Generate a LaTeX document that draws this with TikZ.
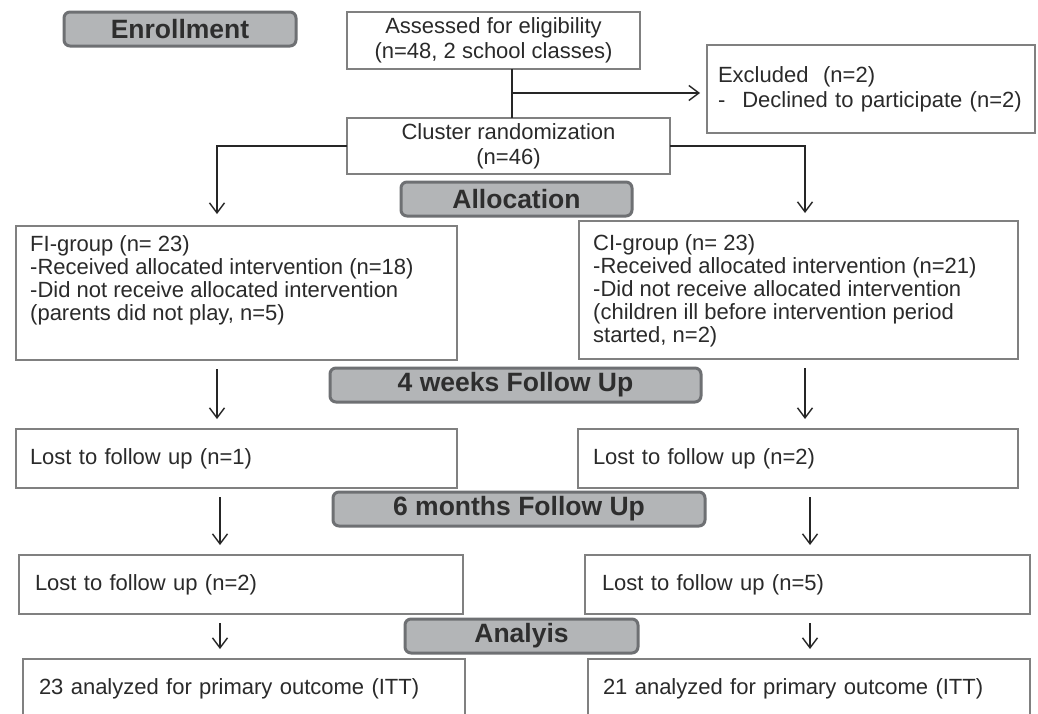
\documentclass[tikz,border=0pt]{standalone}
\usepackage{fontspec}
\setmainfont{Liberation Sans}
\usetikzlibrary{arrows.meta,positioning}

\definecolor{boxline}{HTML}{808080}
\definecolor{headfill}{HTML}{B3B5B7}
\definecolor{headline}{HTML}{6E7073}
\definecolor{headtext}{HTML}{2E2E2E}
\definecolor{arrline}{HTML}{262626}
\definecolor{bodytext}{HTML}{2A2A2A}

\begin{document}
\begin{tikzpicture}[x=1pt,y=-1pt,
	box/.style={draw=boxline, line width=2.6pt, outer sep=0pt, inner ysep=0pt,
		anchor=north west, minimum height=59pt, align=left, text=bodytext,
		font=\fontsize{22}{23}\selectfont},
	wide/.style={font=\fontsize{22}{25}\selectfont},
	boxtext/.style={anchor=north west, inner sep=0pt, align=left, text=bodytext,
		font=\fontsize{22}{23}\selectfont},
	head/.style={draw=headline, fill=headfill, line width=3pt, rounded corners=6pt,
		outer sep=0pt, inner sep=0pt, anchor=north west, minimum height=34pt,
		text=headtext, font=\fontsize{26.5}{28}\selectfont\bfseries},
	link/.style={draw=arrline, line width=1.4pt},
	arr/.style={link, -{Straight Barb[length=10pt,width=15pt]}}]
	\clip (0,0) rectangle (1038,713);
	\fill[white] (0,0) rectangle (1038,713);

	% stage headers
	\node[head, minimum width=232pt] (enroll) at (64,12) {Enrollment};
	\node[head, minimum width=231pt] (alloc) at (401,182) {Allocation};
	\node[head, minimum width=371pt] (fuweeks) at (330,368) {4 weeks Follow Up};
	\node[head, minimum width=372pt] (fumonths) at (333,492) {6 months Follow Up};
	\node[head, minimum width=233pt] (analy) at (405,619) {Analyis};

	% enrollment
	\node[box, wide, align=center, inner xsep=0pt, minimum width=293pt, minimum height=57pt] (assess) at (347,12)
		{Assessed for eligibility\\(n=48, 2 school classes)};
	\node[box, wide, inner xsep=11pt, text width=306pt, minimum height=88pt] (excl) at (707,45)
		{Excluded\ \ (n=2)\\-\hspace{17pt}Declined to participate (n=2)};
	\node[box, wide, align=center, inner xsep=0pt, minimum width=323pt, minimum height=56pt] (clust) at (347,118)
		{Cluster randomization\\(n=46)};

	% allocation
	\node[box, inner sep=0pt, minimum width=441pt, minimum height=134pt] (fi) at (16,226) {};
	\node[boxtext] (fitext) at (30,235)
		{FI-group (n= 23)\\-Received allocated intervention (n=18)\\-Did not receive allocated intervention\\(parents did not play, n=5)};
	\node[box, inner sep=0pt, minimum width=439pt, minimum height=138pt] (ci) at (579,221) {};
	\node[boxtext] (citext) at (593,234)
		{CI-group (n= 23)\\-Received allocated intervention (n=21)\\-Did not receive allocated intervention\\(children ill before intervention period\\started, n=2)};

	% follow up
	\node[box, inner xsep=14pt, text width=413pt] (lostfi) at (16,429) {Lost to follow up (n=1)};
	\node[box, inner xsep=15pt, text width=410pt] (lostci) at (578,429) {Lost to follow up (n=2)};
	\node[box, inner xsep=16pt, text width=412pt] (latefi) at (19,555) {Lost to follow up (n=2)};
	\node[box, inner xsep=17pt, text width=411pt] (lateci) at (585,555) {Lost to follow up (n=5)};

	% analysis
	\node[box, inner xsep=16pt, text width=410pt] (ittfi) at (23,659) {23 analyzed for primary outcome (ITT)};
	\node[box, inner xsep=15pt, text width=412pt] (ittci) at (588,659) {21 analyzed for primary outcome (ITT)};

	% connectors
	\coordinate (split) at (512,93);
	\coordinate (colL) at (217,0);
	\coordinate (colR) at (805,0);
	\coordinate (colLL) at (220,0);
	\coordinate (colRR) at (810,0);
	\draw[link] (assess.south -| split) -- (clust.north -| split);
	\draw[arr, shorten >=7pt] (split) -- (split -| excl.west);
	\draw[arr, shorten >=12pt] (clust.west) -| (colL |- fi.north);
	\draw[arr, shorten >=8pt] (clust.east) -| (colR |- ci.north);
	\foreach \from/\to/\col in {fi/lostfi/colL, ci/lostci/colR, lostfi/latefi/colLL,
		lostci/lateci/colRR, latefi/ittfi/colLL, lateci/ittci/colRR}
		\draw[arr, shorten <=9pt, shorten >=10pt] (\from.south -| \col) -- (\to.north -| \col);
\end{tikzpicture}
\end{document}
